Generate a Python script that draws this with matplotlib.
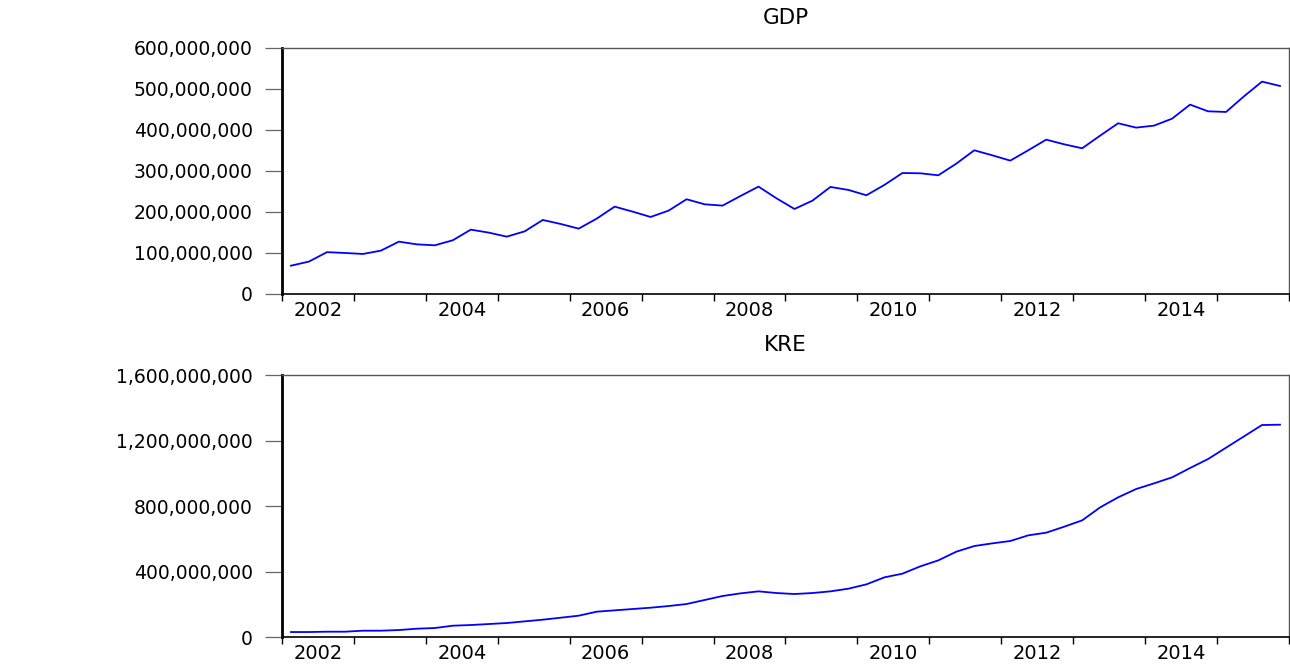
import numpy as np
import matplotlib
matplotlib.use('Agg')
import matplotlib.pyplot as plt
from matplotlib.ticker import FuncFormatter, FixedLocator

plt.rcParams['font.family'] = ['DejaVu Sans']

# quarterly data 2002Q1 - 2015Q4
start_year = 2002
gdp = [69, 79, 102, 100, 97.6, 105.7, 127.6, 121, 118.7, 131, 156.9, 149.6, 139.8, 152.8,
       180.5, 170.7, 159.3, 183.7, 213, 200.8, 187.8, 203.3, 231, 218.7, 215.5, 239, 261.8, 233.3,
       207.3, 227.6, 261, 253.7, 240.7, 265.9, 295, 294.3, 289.4, 317.9, 350.4, 338.2, 325.2, 350.4,
       376.4, 365, 355.3, 386.2, 416.3, 405.7, 410.6, 427.6, 461.8, 445.5, 443.9, 482.1, 517.9, 507.3]
kre = [30.5, 30.5, 32.6, 32.6, 38.7, 38.7, 42.7, 50.9, 55, 69.2, 73.3, 79.4, 85.5, 95.7,
       105.9, 118, 130.3, 154.7, 162.9, 171, 179.1, 189.3, 201.5, 226, 250.4, 266.7, 278.9, 268.7,
       262.6, 268.7, 278.9, 295.2, 321.6, 364.4, 386.8, 431.6, 468.2, 521.1, 555.7, 572, 586.3, 620.9,
       637.2, 673.8, 712.5, 791.9, 853, 903.8, 938.4, 975.1, 1032.1, 1087, 1156.2, 1225.4, 1294.7, 1296.7]
gdp = np.array(gdp) * 1e6
kre = np.array(kre) * 1e6

gdp_ticks = [0, 100e6, 200e6, 300e6, 400e6, 500e6, 600e6]
kre_ticks = [0, 400e6, 800e6, 1200e6, 1600e6]
year_labels = [2002, 2004, 2006, 2008, 2010, 2012, 2014]

# each quarter drawn in the middle of its period
t = start_year + (np.arange(len(gdp)) + 0.5) / 4.0

fig = plt.figure(figsize=(12.9, 6.66), dpi=100)
ax1 = fig.add_axes([0.2186, 0.5586, 0.7806, 0.3694])
ax2 = fig.add_axes([0.2186, 0.0435, 0.7806, 0.3934])


def style_panel(ax, title, yticks):
    ax.set_xlim(2002, 2016)
    ax.set_ylim(yticks[0], yticks[-1])
    ax.set_title(title, fontsize=15.5, pad=17)
    ax.yaxis.set_major_locator(FixedLocator(yticks))
    ax.yaxis.set_major_formatter(FuncFormatter(lambda v, p: '{:,.0f}'.format(v)))
    # year ticks at every year, labels centred in the even years
    ax.xaxis.set_major_locator(FixedLocator(range(2002, 2017)))
    ax.xaxis.set_major_formatter(FuncFormatter(lambda v, p: ''))
    ax.xaxis.set_minor_locator(FixedLocator([y + 0.5 for y in year_labels]))
    ax.xaxis.set_minor_formatter(FuncFormatter(lambda v, p: str(int(v))))
    ax.tick_params(axis='x', which='major', direction='out', length=5, width=1, color='black')
    ax.tick_params(axis='x', which='minor', length=0, labelsize=14, pad=5)
    ax.tick_params(axis='y', direction='out', length=12, width=0.9, color='#666666',
                   labelsize=13.5, pad=9)
    ax.spines['left'].set_linewidth(2)
    ax.spines['left'].set_color('black')
    ax.spines['bottom'].set_linewidth(1.2)
    ax.spines['bottom'].set_color('black')
    for s in ['top', 'right']:
        ax.spines[s].set_linewidth(1)
        ax.spines[s].set_color('#555555')


ax1.plot(t, gdp, color='#0000ff', lw=1.3)
style_panel(ax1, 'GDP', gdp_ticks)
ax2.plot(t, kre, color='#0000ff', lw=1.3)
style_panel(ax2, 'KRE', kre_ticks)

fig.savefig('out.png', dpi=100)
